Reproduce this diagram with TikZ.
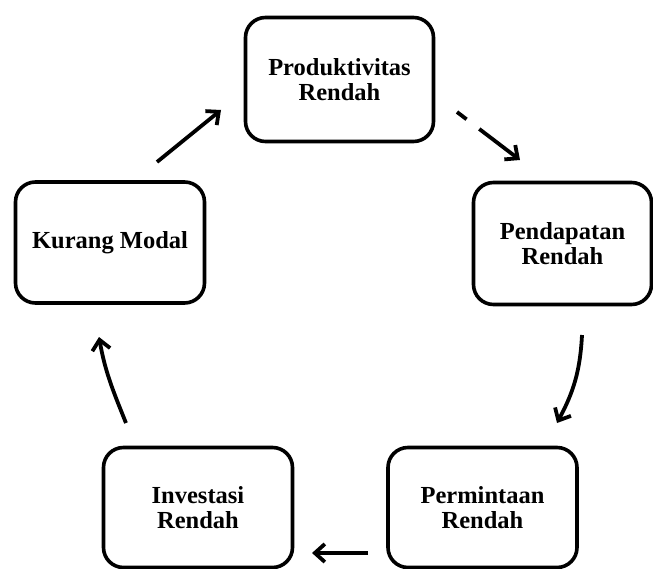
\documentclass[tikz,border=0pt]{standalone}
\usepackage{fontspec}
\setmainfont{Liberation Serif}
\usetikzlibrary{arrows.meta}
\begin{document}
\begin{tikzpicture}[x=1pt,y=-1pt,
  stagebox/.style={draw=black, line width=3.6pt, rounded corners=20pt, fill=white,
    align=center, inner sep=0pt, font=\fontsize{24.5}{25.5}\selectfont\bfseries},
  flowarrow/.style={line width=3.8pt, -{Straight Barb[length=10pt,width=18pt,line width=3.8pt]}}]
\useasboundingbox (0,0) rectangle (653,569);
\fill[white] (0,0) rectangle (653,569);
\node[stagebox, minimum width=188pt, minimum height=124pt] (P) at (339.5,79.5) {Produktivitas\\Rendah};
\node[stagebox, minimum width=178pt, minimum height=122pt] (D) at (562.5,243.5) {Pendapatan\\Rendah};
\node[stagebox, minimum width=189pt, minimum height=120pt] (M) at (482.5,507.5) {Permintaan\\Rendah};
\node[stagebox, minimum width=189pt, minimum height=120pt] (I) at (198,507.5) {Investasi\\Rendah};
\node[stagebox, minimum width=189pt, minimum height=121pt] (K) at (110,242.5) {Kurang Modal};
% connector end points
\coordinate (pd1) at (457,112); \coordinate (pd2) at (520,160);
\coordinate (dm1) at (582,335); \coordinate (dm2) at (557,423);
\coordinate (mi1) at (368,553); \coordinate (mi2) at (312,553);
\coordinate (ik1) at (126,423); \coordinate (ik2) at (99,337);
\coordinate (kp1) at (157,162); \coordinate (kp2) at (221,110);
\draw[flowarrow, dash pattern=on 12pt off 16pt on 200pt] (pd1) -- (pd2);
\draw[flowarrow] (dm1) to[out=-93,in=62] (dm2);
\draw[flowarrow] (mi1) -- (mi2);
\draw[flowarrow] (ik1) to[out=112,in=-80] (ik2);
\draw[flowarrow] (kp1) -- (kp2);
\end{tikzpicture}
\end{document}
